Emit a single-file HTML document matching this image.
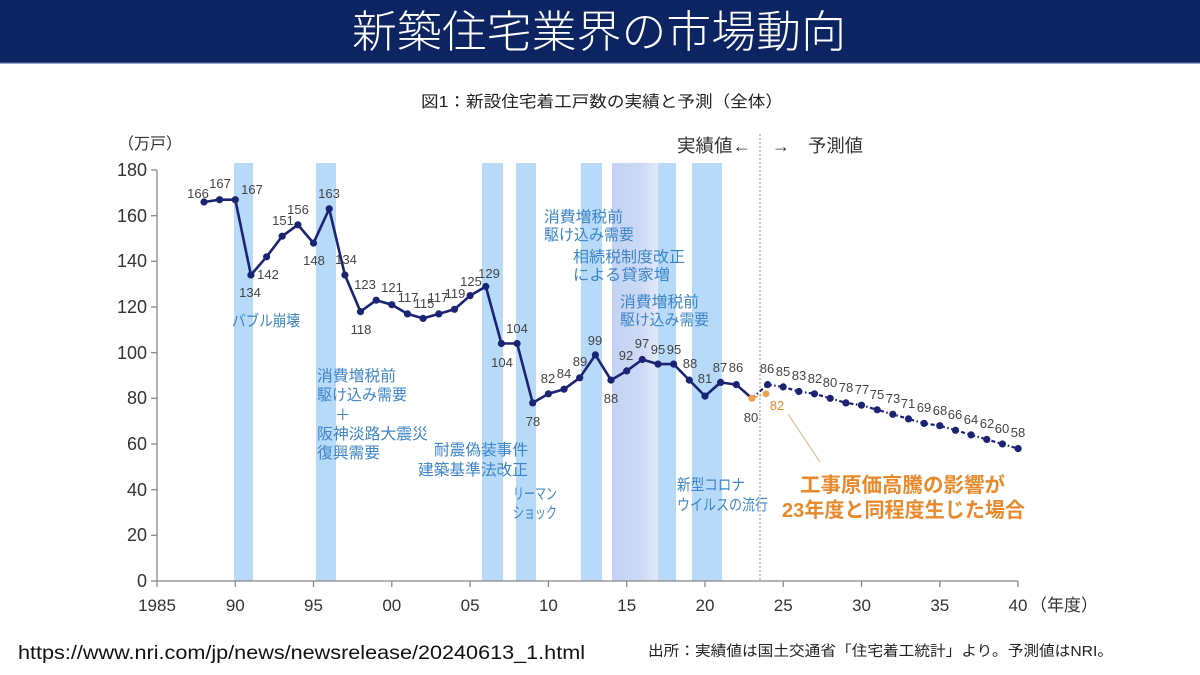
<!DOCTYPE html>
<html><head><meta charset="utf-8"><style>
html,body{margin:0;padding:0;background:#fff;}
svg{display:block;}
text{font-family:"Liberation Sans","Noto Sans CJK JP",sans-serif;}
</style></head><body>
<svg width="1200" height="675" viewBox="0 0 1200 675" xmlns="http://www.w3.org/2000/svg">
<defs>
<linearGradient id="lav" x1="0" x2="1" y1="0" y2="0">
<stop offset="0" stop-color="#c4d3f4"/><stop offset="0.6" stop-color="#cbd9f5"/><stop offset="1" stop-color="#e2e8f8"/>
</linearGradient>
</defs>
<rect x="0" y="0" width="1200" height="675" fill="#fff"/>
<rect x="0" y="0" width="1200" height="63" fill="#0c2461"/>
<rect x="0" y="62" width="1200" height="1.5" fill="#34508e"/>
<text x="352" y="47" font-size="44" fill="#fff" textLength="494" lengthAdjust="spacingAndGlyphs" font-family="Noto Sans CJK JP, sans-serif" font-weight="300">新築住宅業界の市場動向</text>

<text x="421" y="107" font-size="16" fill="#222" textLength="362" lengthAdjust="spacingAndGlyphs">図1：新設住宅着工戸数の実績と予測（全体）</text>

<!-- bands -->
<g fill="#b6daf8">
<rect x="234" y="163" width="19" height="418"/>
<rect x="316" y="163" width="20" height="418"/>
<rect x="482" y="163" width="21" height="418"/>
<rect x="516" y="163" width="20" height="418"/>
<rect x="581" y="163" width="21" height="418"/>
<rect x="658" y="163" width="18" height="418"/>
<rect x="692" y="163" width="30" height="418"/>
</g>
<rect x="612" y="163" width="46" height="418" fill="url(#lav)"/>

<!-- divider -->
<line x1="760" y1="134" x2="760" y2="581" stroke="#aaa" stroke-width="1.2" stroke-dasharray="2,2"/>

<text x="118" y="149" font-size="16" fill="#333">（万戸）</text>
<text x="677" y="152" font-size="18" fill="#333" textLength="74" lengthAdjust="spacingAndGlyphs">実績値←</text>
<text x="772" y="152" font-size="18" fill="#333">→</text>
<text x="808" y="152" font-size="18" fill="#333" textLength="55" lengthAdjust="spacingAndGlyphs">予測値</text>

<!-- axes -->
<g stroke="#888" stroke-width="1.3" fill="none">
<line x1="157" y1="170" x2="157" y2="581"/>
<line x1="157" y1="581" x2="1018" y2="581"/>
<line x1="151" y1="170" x2="157" y2="170"/>
<line x1="151" y1="215.7" x2="157" y2="215.7"/>
<line x1="151" y1="261.3" x2="157" y2="261.3"/>
<line x1="151" y1="307" x2="157" y2="307"/>
<line x1="151" y1="352.7" x2="157" y2="352.7"/>
<line x1="151" y1="398.3" x2="157" y2="398.3"/>
<line x1="151" y1="444" x2="157" y2="444"/>
<line x1="151" y1="489.7" x2="157" y2="489.7"/>
<line x1="151" y1="535.3" x2="157" y2="535.3"/>
<line x1="151" y1="581" x2="157" y2="581"/>
<line x1="157" y1="581" x2="157" y2="587"/>
<line x1="235.3" y1="581" x2="235.3" y2="587"/>
<line x1="313.5" y1="581" x2="313.5" y2="587"/>
<line x1="391.8" y1="581" x2="391.8" y2="587"/>
<line x1="470.1" y1="581" x2="470.1" y2="587"/>
<line x1="548.4" y1="581" x2="548.4" y2="587"/>
<line x1="626.7" y1="581" x2="626.7" y2="587"/>
<line x1="705" y1="581" x2="705" y2="587"/>
<line x1="783.2" y1="581" x2="783.2" y2="587"/>
<line x1="861.5" y1="581" x2="861.5" y2="587"/>
<line x1="939.8" y1="581" x2="939.8" y2="587"/>
<line x1="1018" y1="581" x2="1018" y2="587"/>
</g>
<g font-size="18" fill="#333" text-anchor="end">
<text x="147" y="176">180</text>
<text x="147" y="222">160</text>
<text x="147" y="267">140</text>
<text x="147" y="313">120</text>
<text x="147" y="359">100</text>
<text x="147" y="404">80</text>
<text x="147" y="450">60</text>
<text x="147" y="496">40</text>
<text x="147" y="541">20</text>
<text x="147" y="587">0</text>
</g>
<g font-size="17" fill="#333" text-anchor="middle">
<text x="157" y="611">1985</text>
<text x="235.3" y="611">90</text>
<text x="313.5" y="611">95</text>
<text x="391.8" y="611">00</text>
<text x="470.1" y="611">05</text>
<text x="548.4" y="611">10</text>
<text x="626.7" y="611">15</text>
<text x="705" y="611">20</text>
<text x="783.2" y="611">25</text>
<text x="861.5" y="611">30</text>
<text x="939.8" y="611">35</text>
<text x="1018" y="611">40</text>
</g>
<text x="1030" y="611" font-size="17" fill="#333">（年度）</text>

<!-- blue annotations -->
<g font-size="15.5" fill="#3d85c6">
<text x="232" y="326" textLength="68" lengthAdjust="spacingAndGlyphs">バブル崩壊</text>
<text x="317" y="381" textLength="79" lengthAdjust="spacingAndGlyphs">消費増税前</text>
<text x="317" y="400" textLength="90" lengthAdjust="spacingAndGlyphs">駆け込み需要</text>
<text x="335" y="420">＋</text>
<text x="317" y="439" textLength="111" lengthAdjust="spacingAndGlyphs">阪神淡路大震災</text>
<text x="317" y="458" textLength="63" lengthAdjust="spacingAndGlyphs">復興需要</text>
<text x="434" y="455" textLength="94" lengthAdjust="spacingAndGlyphs">耐震偽装事件</text>
<text x="418" y="475" textLength="110" lengthAdjust="spacingAndGlyphs">建築基準法改正</text>
<text x="513" y="499" textLength="44" lengthAdjust="spacingAndGlyphs">リーマン</text>
<text x="513" y="518" textLength="44" lengthAdjust="spacingAndGlyphs">ショック</text>
<text x="544" y="222" textLength="79" lengthAdjust="spacingAndGlyphs">消費増税前</text>
<text x="544" y="240" textLength="90" lengthAdjust="spacingAndGlyphs">駆け込み需要</text>
<text x="573" y="262" textLength="112" lengthAdjust="spacingAndGlyphs">相続税制度改正</text>
<text x="573" y="280" textLength="97" lengthAdjust="spacingAndGlyphs">による貸家増</text>
<text x="620" y="307" textLength="79" lengthAdjust="spacingAndGlyphs">消費増税前</text>
<text x="620" y="325" textLength="89" lengthAdjust="spacingAndGlyphs">駆け込み需要</text>
<text x="677" y="490" textLength="68" lengthAdjust="spacingAndGlyphs">新型コロナ</text>
<text x="677" y="510" textLength="91" lengthAdjust="spacingAndGlyphs">ウイルスの流行</text>
</g>

<!-- actual line -->
<polyline fill="none" stroke="#1b2373" stroke-width="2.6" stroke-linejoin="round"
points="204,202 219.6,199.7 235.3,199.7 250.9,275 266.6,256.8 282.2,236.2 297.9,224.8 313.5,243.1 329.2,208.8 344.9,275 360.5,311.6 376.2,300.2 391.8,304.7 407.5,313.9 423.1,318.4 438.8,313.9 454.5,309.3 470.1,295.6 485.8,286.5 501.4,343.5 517.1,343.5 532.7,402.9 548.4,393.8 564.1,389.2 579.7,377.8 595.4,354.9 611,380.1 626.7,370.9 642.3,359.5 658,364.1 673.6,364.1 689.3,380.1 705,396.1 720.6,382.4 736.3,384.6 751.9,398.3"/>
<!-- forecast line -->
<polyline fill="none" stroke="#1b2373" stroke-width="2.2" stroke-dasharray="4,2.5,1.5,2.5"
points="751.9,398.3 767.6,384.6 783.2,386.9 798.9,391.5 814.5,393.8 830.2,398.3 845.9,402.9 861.5,405.2 877.2,409.8 892.8,414.3 908.5,418.9 924.1,423.4 939.8,425.7 955.5,430.3 971.1,434.9 986.8,439.4 1002.4,444 1018.1,448.6"/>
<line x1="751.9" y1="398.3" x2="766" y2="393.8" stroke="#f0a050" stroke-width="1.5" stroke-dasharray="2,2"/>

<g fill="#1b2373">
<circle cx="204" cy="202" r="3.6"/><circle cx="219.6" cy="199.7" r="3.6"/><circle cx="235.3" cy="199.7" r="3.6"/><circle cx="250.9" cy="275" r="3.6"/><circle cx="266.6" cy="256.8" r="3.6"/><circle cx="282.2" cy="236.2" r="3.6"/><circle cx="297.9" cy="224.8" r="3.6"/><circle cx="313.5" cy="243.1" r="3.6"/><circle cx="329.2" cy="208.8" r="3.6"/><circle cx="344.9" cy="275" r="3.6"/><circle cx="360.5" cy="311.6" r="3.6"/><circle cx="376.2" cy="300.2" r="3.6"/><circle cx="391.8" cy="304.7" r="3.6"/><circle cx="407.5" cy="313.9" r="3.6"/><circle cx="423.1" cy="318.4" r="3.6"/><circle cx="438.8" cy="313.9" r="3.6"/><circle cx="454.5" cy="309.3" r="3.6"/><circle cx="470.1" cy="295.6" r="3.6"/><circle cx="485.8" cy="286.5" r="3.6"/><circle cx="501.4" cy="343.5" r="3.6"/><circle cx="517.1" cy="343.5" r="3.6"/><circle cx="532.7" cy="402.9" r="3.6"/><circle cx="548.4" cy="393.8" r="3.6"/><circle cx="564.1" cy="389.2" r="3.6"/><circle cx="579.7" cy="377.8" r="3.6"/><circle cx="595.4" cy="354.9" r="3.6"/><circle cx="611" cy="380.1" r="3.6"/><circle cx="626.7" cy="370.9" r="3.6"/><circle cx="642.3" cy="359.5" r="3.6"/><circle cx="658" cy="364.1" r="3.6"/><circle cx="673.6" cy="364.1" r="3.6"/><circle cx="689.3" cy="380.1" r="3.6"/><circle cx="705" cy="396.1" r="3.6"/><circle cx="720.6" cy="382.4" r="3.6"/><circle cx="736.3" cy="384.6" r="3.6"/>
<circle cx="767.6" cy="384.6" r="3.6"/><circle cx="783.2" cy="386.9" r="3.6"/><circle cx="798.9" cy="391.5" r="3.6"/><circle cx="814.5" cy="393.8" r="3.6"/><circle cx="830.2" cy="398.3" r="3.6"/><circle cx="845.9" cy="402.9" r="3.6"/><circle cx="861.5" cy="405.2" r="3.6"/><circle cx="877.2" cy="409.8" r="3.6"/><circle cx="892.8" cy="414.3" r="3.6"/><circle cx="908.5" cy="418.9" r="3.6"/><circle cx="924.1" cy="423.4" r="3.6"/><circle cx="939.8" cy="425.7" r="3.6"/><circle cx="955.5" cy="430.3" r="3.6"/><circle cx="971.1" cy="434.9" r="3.6"/><circle cx="986.8" cy="439.4" r="3.6"/><circle cx="1002.4" cy="444" r="3.6"/><circle cx="1018.1" cy="448.6" r="3.6"/>
</g>
<circle cx="751.9" cy="398.3" r="3.6" fill="#f0a050"/>
<circle cx="766" cy="393.8" r="3.4" fill="#f0a050"/>

<!-- data labels -->
<g font-size="13" fill="#444" text-anchor="middle">
<text x="198" y="198">166</text>
<text x="220" y="188">167</text>
<text x="252" y="194">167</text>
<text x="250" y="297">134</text>
<text x="268" y="279">142</text>
<text x="283" y="225">151</text>
<text x="298" y="214">156</text>
<text x="314" y="265">148</text>
<text x="329" y="198">163</text>
<text x="346" y="264">134</text>
<text x="361" y="334">118</text>
<text x="365" y="289">123</text>
<text x="392" y="292">121</text>
<text x="408" y="302">117</text>
<text x="424" y="308">115</text>
<text x="438" y="302">117</text>
<text x="455" y="298">119</text>
<text x="471" y="286">125</text>
<text x="489" y="278">129</text>
<text x="502" y="367">104</text>
<text x="517" y="333">104</text>
<text x="533" y="426">78</text>
<text x="548" y="383">82</text>
<text x="564" y="378">84</text>
<text x="580" y="366">89</text>
<text x="595" y="345">99</text>
<text x="611" y="403">88</text>
<text x="626" y="360">92</text>
<text x="642" y="348">97</text>
<text x="658" y="354">95</text>
<text x="674" y="354">95</text>
<text x="690" y="368">88</text>
<text x="705" y="383">81</text>
<text x="720" y="372">87</text>
<text x="736" y="372">86</text>
<text x="751" y="422">80</text>
<text x="767" y="373">86</text>
<text x="783" y="376">85</text>
<text x="799" y="380">83</text>
<text x="815" y="383">82</text>
<text x="830" y="387">80</text>
<text x="846" y="392">78</text>
<text x="862" y="394">77</text>
<text x="877" y="399">75</text>
<text x="893" y="403">73</text>
<text x="908" y="408">71</text>
<text x="924" y="412">69</text>
<text x="940" y="415">68</text>
<text x="955" y="419">66</text>
<text x="971" y="424">64</text>
<text x="987" y="428">62</text>
<text x="1002" y="433">60</text>
<text x="1018" y="437">58</text>
</g>
<text x="777" y="410" font-size="13" fill="#e8892b" text-anchor="middle">82</text>

<!-- orange annotation -->
<line x1="788" y1="414" x2="820" y2="462" stroke="#d8c3a5" stroke-width="1.3"/>
<g font-size="20.5" font-weight="bold" fill="#e8892b">
<text x="800" y="492" textLength="205" lengthAdjust="spacingAndGlyphs">工事原価高騰の影響が</text>
<text x="782" y="517" textLength="243" lengthAdjust="spacingAndGlyphs">23年度と同程度生じた場合</text>
</g>

<!-- footer -->
<text x="18" y="659" font-size="19" fill="#111" textLength="567" lengthAdjust="spacingAndGlyphs">https://www.nri.com/jp/news/newsrelease/20240613_1.html</text>
<text x="648" y="656" font-size="14.5" fill="#222" textLength="465" lengthAdjust="spacingAndGlyphs">出所：実績値は国土交通省「住宅着工統計」より。予測値はNRI。</text>
</svg>
</body></html>
